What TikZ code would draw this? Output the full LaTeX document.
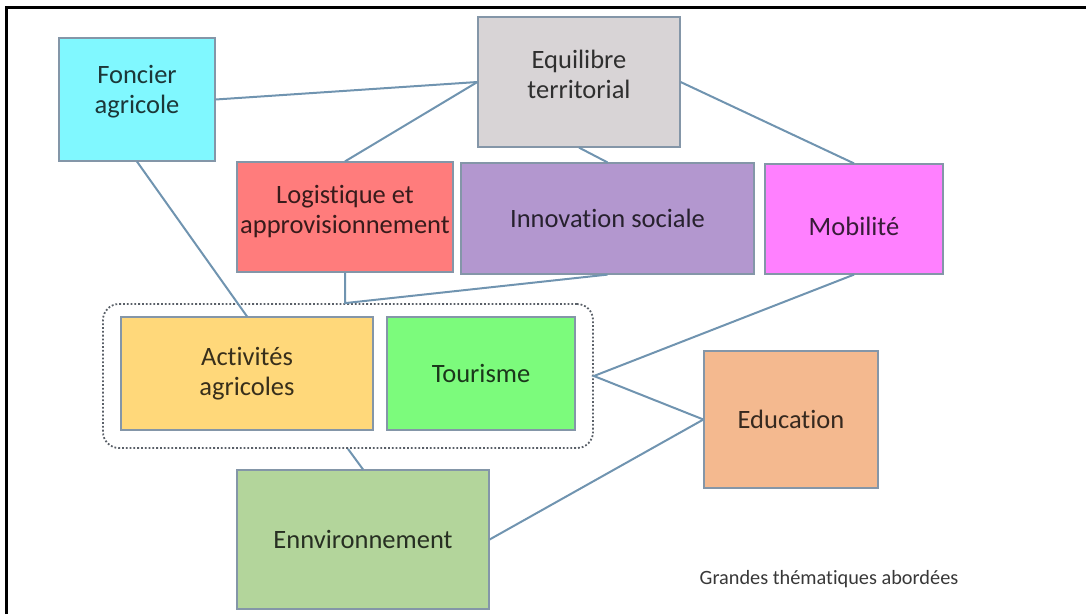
\documentclass[tikz,border=0pt]{standalone}
\usepackage{fontspec}
\setmainfont{Carlito}[Ligatures=NoCommon]
\usepackage{tikz}

\definecolor{cFonc}{HTML}{80F8FF}
\definecolor{cEqui}{HTML}{D8D4D6}
\definecolor{cLogi}{HTML}{FF7C7C}
\definecolor{cInno}{HTML}{B397CF}
\definecolor{cMobi}{HTML}{FF80FF}
\definecolor{cActi}{HTML}{FFD87A}
\definecolor{cTour}{HTML}{7CFB7C}
\definecolor{cEduc}{HTML}{F4B98F}
\definecolor{cEnvi}{HTML}{B3D59B}
\definecolor{boxline}{HTML}{8496A8}
\definecolor{linkblue}{HTML}{7094B0}
\definecolor{dotgray}{HTML}{5A6068}

\begin{document}
\begin{tikzpicture}[x=1pt,y=-1pt,
    box/.style={draw=boxline,line width=1.2pt,fill=#1,text=#1!22!black,
      align=center,inner sep=0pt,font=\fontsize{26.5}{30}\selectfont},
    link/.style={draw=linkblue,line width=2pt}]
  \useasboundingbox (0,0) rectangle (1086,614);
  \draw[line width=3pt] (6.5,614) -- (6.5,7) -- (1086,7);

  \node[box=cFonc,minimum width=156pt,minimum height=123pt,text depth=20pt] (Fonc) at (137,99.5) {Foncier\\agricole};
  \node[box=cEqui,minimum width=202pt,minimum height=130pt,text depth=15pt] (Equi) at (579,82) {Equilibre\\territorial};
  \node[box=cLogi,minimum width=216pt,minimum height=110pt,text depth=15pt] (Logi) at (345,217) {Logistique et\\approvisionnement};
  \node[box=cInno,minimum width=293pt,minimum height=111pt] (Inno) at (607.5,218.5) {Innovation sociale};
  \node[box=cMobi,minimum width=178pt,minimum height=110pt,text height=34pt] (Mobi) at (854,219) {Mobilité};
  \node[box=cActi,minimum width=252pt,minimum height=113pt] (Acti) at (247,373.5) {Activités\\agricoles};
  \node[box=cTour,minimum width=188pt,minimum height=113pt] (Tour) at (481,373.5) {Tourisme};
  \node[box=cEduc,minimum width=174pt,minimum height=137pt] (Educ) at (791,419.5) {Education};
  \node[box=cEnvi,minimum width=252pt,minimum height=139pt] (Envi) at (363,539.5) {Ennvironnement};
  \node[draw=dotgray,dotted,line width=1.8pt,rounded corners=16pt,
    minimum width=490pt,minimum height=144pt] (Grp) at (348,376) {};
  \node[font=\fontsize{20.3}{23}\selectfont,text=black!78] (Titre) at (829,579) {Grandes thématiques abordées};

  \draw[link] (Fonc.east) -- (Equi.west);
  \draw[link] (Logi.north) -- (Equi.west);
  \draw[link] (Equi.south) -- (Inno.north);
  \draw[link] (Equi.east) -- (Mobi.north);
  \draw[link] (Fonc.south) -- (Acti.north);
  \draw[link] (Logi.south) -- (Logi.south |- Grp.north) -- (Inno.south);
  \draw[link] (Mobi.south) -- (Grp.east) -- (Educ.west);
  \draw[link] (Educ.west) -- (Envi.east);
  \draw[link] (Grp.south) -- (Envi.north);
\end{tikzpicture}
\end{document}
